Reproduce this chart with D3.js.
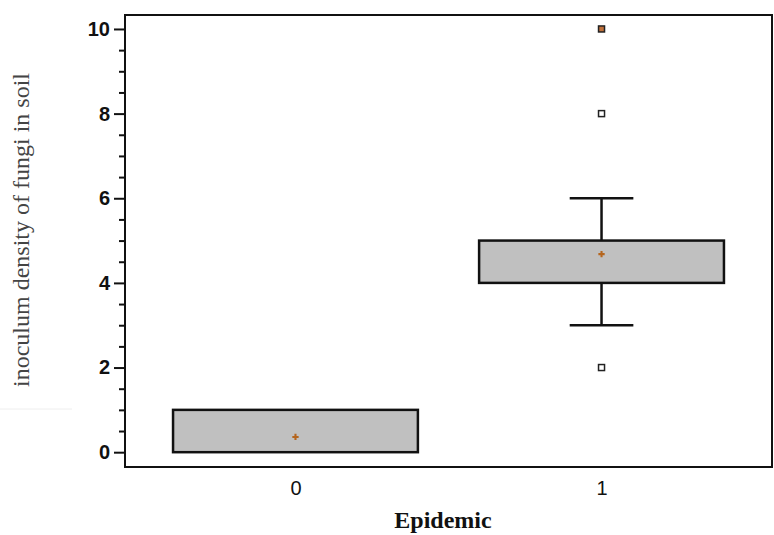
<!DOCTYPE html>
<html>
<head>
<meta charset="utf-8">
<script src="https://cdn.jsdelivr.net/npm/d3@7"></script>
<style>
  body { margin: 0; background: #fff; }
</style>
</head>
<body>
<div id="chart"></div>
<script>
// data
var groups = ["0", "1"];
var q1 = [0, 4];
var q3 = [1, 5];
var whiskLow = [0, 3];
var whiskHigh = [1, 6];
var means = [0.36, 4.68];
var outliers = [[], [10, 8, 2]];
var yTicks = [0, 2, 4, 6, 8, 10];

var svgWidth = 774, svgHeight = 535;
var margin = { top: 15, right: 2, bottom: 68, left: 125 };
var width = svgWidth - margin.left - margin.right;
var height = svgHeight - margin.top - margin.bottom;

var svg = d3.select("#chart").append("svg")
  .attr("width", svgWidth)
  .attr("height", svgHeight);

var chartGroup = svg.append("g")
  .attr("transform", `translate(${margin.left}, ${margin.top})`);

var x = d3.scalePoint()
  .domain(groups)
  .range([0, width])
  .padding(0.557);
var boxW = x.step() * 0.8;

var y = d3.scaleLinear()
  .domain([-0.35, 10.33])
  .range([height, 0]);

// faint line artifact at left margin
svg.append("line")
  .attr("x1", 0).attr("x2", 72)
  .attr("y1", 409).attr("y2", 409)
  .attr("stroke", "#eee").attr("stroke-width", 1);

// frame
chartGroup.append("rect")
  .attr("x", 0).attr("y", 0)
  .attr("width", width).attr("height", height)
  .attr("fill", "none")
  .attr("stroke", "#111")
  .attr("stroke-width", 2);

// y axis: minor ticks
var minor = d3.range(0, 10.01, 0.5).filter(d => d % 2 !== 0);
chartGroup.append("g")
  .call(d3.axisLeft(y).tickValues(minor).tickSize(6).tickFormat(""))
  .call(g => g.select(".domain").remove())
  .selectAll("line").attr("stroke", "#111").attr("stroke-width", 2);

// y axis: major ticks
var yAxis = chartGroup.append("g")
  .call(d3.axisLeft(y).tickValues(yTicks).tickSize(11).tickPadding(4).tickFormat(d3.format("d")));
yAxis.select(".domain").remove();
yAxis.selectAll("line").attr("stroke", "#111").attr("stroke-width", 2);
yAxis.selectAll("text")
  .attr("font-family", "Liberation Sans, Arial, sans-serif")
  .attr("font-size", "20px")
  .attr("font-weight", "bold")
  .attr("fill", "#111");

// x axis labels
var xAxis = chartGroup.append("g")
  .attr("transform", `translate(0, ${height})`)
  .call(d3.axisBottom(x).tickSize(0).tickPadding(14));
xAxis.select(".domain").remove();
xAxis.selectAll("text")
  .attr("font-family", "Liberation Sans, Arial, sans-serif")
  .attr("font-size", "20px")
  .attr("fill", "#111");

// boxes
var boxes = chartGroup.selectAll(".box")
  .data(groups)
  .enter()
  .append("g")
  .attr("class", "box");

// whiskers, box, mean, outliers
boxes.each(function(d, i) {
  var g = d3.select(this);
  var cx = x(d);
  if (whiskHigh[i] > q3[i]) {
    g.append("line")
      .attr("x1", cx).attr("x2", cx)
      .attr("y1", y(q3[i])).attr("y2", y(whiskHigh[i]))
      .attr("stroke", "#111").attr("stroke-width", 2.5);
    g.append("line")
      .attr("x1", cx - boxW * 0.13).attr("x2", cx + boxW * 0.13)
      .attr("y1", y(whiskHigh[i])).attr("y2", y(whiskHigh[i]))
      .attr("stroke", "#111").attr("stroke-width", 2.5);
  }
  if (whiskLow[i] < q1[i]) {
    g.append("line")
      .attr("x1", cx).attr("x2", cx)
      .attr("y1", y(q1[i])).attr("y2", y(whiskLow[i]))
      .attr("stroke", "#111").attr("stroke-width", 2.5);
    g.append("line")
      .attr("x1", cx - boxW * 0.13).attr("x2", cx + boxW * 0.13)
      .attr("y1", y(whiskLow[i])).attr("y2", y(whiskLow[i]))
      .attr("stroke", "#111").attr("stroke-width", 2.5);
  }
  g.append("rect")
    .attr("x", cx - boxW / 2)
    .attr("y", y(q3[i]))
    .attr("width", boxW)
    .attr("height", y(q1[i]) - y(q3[i]))
    .attr("fill", "#c0c0c0")
    .attr("stroke", "#111")
    .attr("stroke-width", 2.5);

  g.append("path")
    .attr("d", d3.symbol(d3.symbolCross, 22)())
    .attr("transform", `translate(${cx}, ${y(means[i])})`)
    .attr("fill", "#b5651d");

  outliers[i].forEach(function(v, k) {
    g.append("rect")
      .attr("x", cx - 3).attr("y", y(v) - 3)
      .attr("width", 6).attr("height", 6)
      .attr("fill", k === 0 ? "#c0703a" : "#fff")
      .attr("stroke", "#222")
      .attr("stroke-width", 1.5);
  });
});

// axis titles
svg.append("text")
  .attr("x", 443)
  .attr("y", 528)
  .attr("text-anchor", "middle")
  .attr("font-family", "Liberation Serif, Times New Roman, serif")
  .attr("font-weight", "bold")
  .attr("font-size", "24px")
  .attr("fill", "#111")
  .text("Epidemic");

svg.append("text")
  .attr("transform", "rotate(-90)")
  .attr("x", -230)
  .attr("y", 29)
  .attr("text-anchor", "middle")
  .attr("font-family", "Liberation Serif, Times New Roman, serif")
  .attr("font-size", "24px")
  .attr("fill", "#444")
  .text("inoculum density of fungi in soil");
</script>
</body>
</html>
